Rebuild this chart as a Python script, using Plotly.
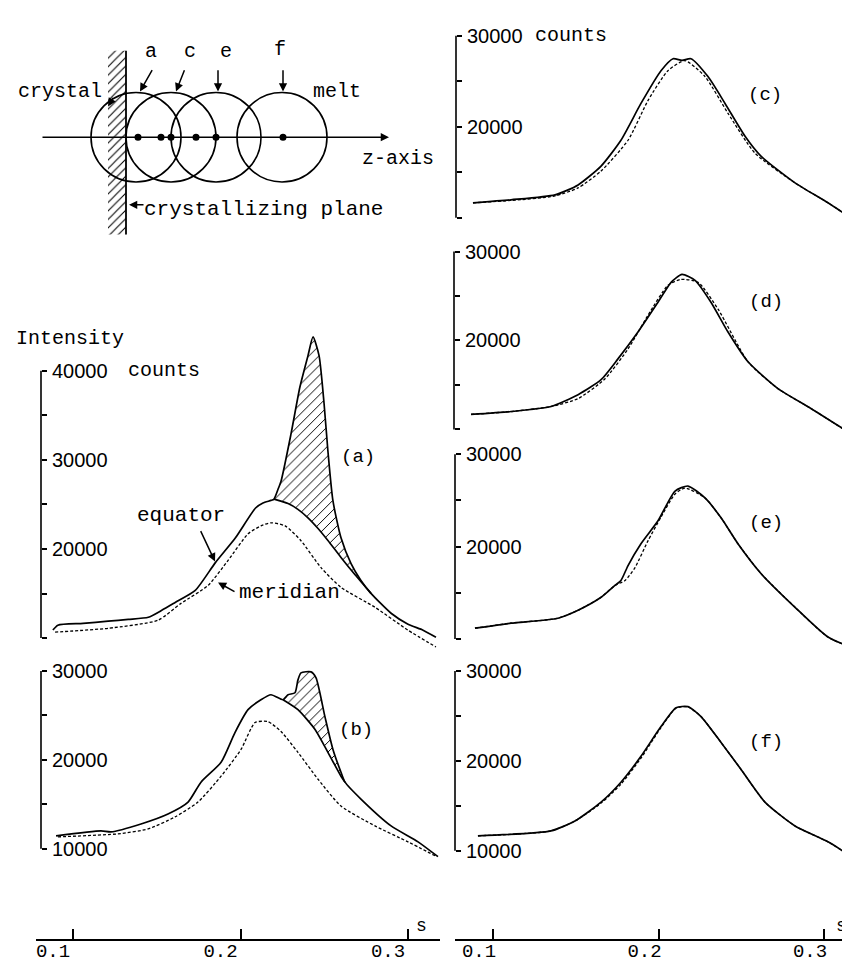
import plotly.graph_objects as go

W, H = 850, 966
MONO = "Liberation Mono"
SANS = "Liberation Sans"

# ---------------- data ----------------
# panel (a): crystal/melt interface
a_equator_s = [0.088, 0.091, 0.106, 0.121, 0.133, 0.145, 0.153, 0.161, 0.173, 0.185, 0.197, 0.209,
               0.2134, 0.2182, 0.2200, 0.2224, 0.2242, 0.2301, 0.2355, 0.2403, 0.2433, 0.2469, 0.2499,
               0.2522, 0.2552, 0.2600, 0.2660, 0.2719, 0.2779, 0.2899, 0.3000, 0.3090, 0.3167]
a_equator_v = [10900, 11450, 11650, 11900, 12100, 12340, 13120, 14000, 15350, 18470, 21260, 24600,
               25170, 25450, 25600, 26700, 27600, 32860, 38200, 41700, 43800, 41700, 36300,
               30970, 25390, 21260, 18360, 16470, 15020, 12790, 11560, 10890, 10100]
a_base_s = [0.2200, 0.2284, 0.2343, 0.2403, 0.2463, 0.2522, 0.2600, 0.2684, 0.2779]
a_base_v = [25600, 25100, 24450, 23500, 22300, 20950, 19050, 17100, 15020]
a_meridian_s = [0.0893, 0.1209, 0.1507, 0.1645, 0.1806, 0.1925, 0.2045, 0.2122, 0.2182, 0.2266,
                0.2361, 0.2481, 0.2600, 0.2803, 0.3000, 0.3167]
a_meridian_v = [10670, 11100, 12000, 13900, 15900, 18700, 21700, 22600, 22940, 22600,
                20930, 17900, 15690, 13460, 10890, 9000]

# panel (b)
b_equator_s = [0.0899, 0.1167, 0.1227, 0.1406, 0.1567, 0.1687, 0.1764, 0.1884, 0.1967, 0.2045,
               0.2122, 0.2182, 0.2254, 0.2284, 0.2325, 0.2343, 0.2361, 0.2421, 0.2451, 0.2504,
               0.2552, 0.2600, 0.2624, 0.2719, 0.2899, 0.3060, 0.3179]
b_equator_v = [11450, 12010, 11900, 12790, 13910, 15250, 17490, 19720, 23070, 25640,
               26760, 27320, 26760, 27320, 27540, 28990, 29780, 29890, 29220, 24860,
               21170, 18600, 17490, 15590, 12570, 10780, 9110]
b_base_s = [0.2254, 0.2343, 0.2445, 0.2522, 0.2600, 0.2624]
b_base_v = [26760, 25640, 23410, 20840, 18160, 17490]
b_meridian_s = [0.0910, 0.1269, 0.1448, 0.1609, 0.1746, 0.1884, 0.2003, 0.2087, 0.2164, 0.2242,
                0.2343, 0.2463, 0.2600, 0.2803, 0.3000, 0.3161]
b_meridian_v = [11340, 11680, 12230, 13580, 15250, 18160, 21170, 24190, 24300, 23180,
                20840, 17820, 14800, 12570, 10780, 9220]

# panel (c)
c_equator_s = [0.0879, 0.1109, 0.1375, 0.1514, 0.1653, 0.1773, 0.1894, 0.2015, 0.2088, 0.2142,
               0.2196, 0.2299, 0.2402, 0.2523, 0.2619, 0.2825, 0.3024, 0.3187]
c_equator_v = [11640, 11970, 12510, 13610, 15680, 18520, 22570, 26170, 27490, 27300,
               27490, 25520, 22570, 18960, 16780, 13830, 11640, 9670]
c_meridian_s = [0.0879, 0.1109, 0.1375, 0.1514, 0.1653, 0.1816, 0.1937, 0.2057, 0.2160, 0.2281,
                0.2420, 0.2583, 0.2825, 0.3024, 0.3187]
c_meridian_v = [11640, 11900, 12400, 13280, 15140, 18520, 22900, 26170, 27270, 25520,
                21480, 17100, 13830, 11640, 9670]

# panel (d)
d_equator_s = [0.0867, 0.1109, 0.1350, 0.1514, 0.1653, 0.1755, 0.1876, 0.1997, 0.2076, 0.2142,
               0.2221, 0.2317, 0.2420, 0.2541, 0.2722, 0.2921, 0.3187]
d_equator_v = [11680, 12010, 12570, 13910, 15590, 17930, 20950, 24300, 26540, 27430,
               26760, 24300, 20950, 17600, 14580, 12350, 9220]
d_meridian_s = [0.0867, 0.1109, 0.1350, 0.1514, 0.1677, 0.1816, 0.1937, 0.2057, 0.2136, 0.2239,
                0.2360, 0.2541, 0.2722, 0.2921, 0.3187]
d_meridian_v = [11680, 12010, 12570, 13460, 15700, 19050, 22850, 26200, 26870, 26540,
                23520, 17600, 14580, 12350, 9220]

# panel (e)
e_equator_s = [0.0891, 0.1109, 0.1393, 0.1514, 0.1653, 0.1737, 0.1773, 0.1816, 0.1894, 0.1997,
               0.2100, 0.2178, 0.2281, 0.2378, 0.2480, 0.2619, 0.2825, 0.3024, 0.3205]
e_equator_v = [11180, 11720, 12260, 13120, 14520, 15810, 16340, 17960, 20320, 22800,
               26020, 26560, 25270, 23120, 20320, 17100, 13440, 10220, 8820]
e_meridian_s = [0.0891, 0.1109, 0.1393, 0.1514, 0.1653, 0.1737, 0.1798, 0.1858, 0.1937, 0.2015,
                0.2100, 0.2160, 0.2281, 0.2378, 0.2480, 0.2619, 0.2825, 0.3024, 0.3205]
e_meridian_v = [11180, 11720, 12260, 13120, 14520, 15810, 16340, 17740, 20650, 23200,
                25700, 26340, 25270, 23120, 20320, 17100, 13440, 10220, 8820]

# panel (f)
f_equator_s = [0.0909, 0.1350, 0.1495, 0.1653, 0.1773, 0.1894, 0.2015, 0.2106, 0.2178, 0.2257,
               0.2378, 0.2498, 0.2643, 0.2825, 0.3024, 0.3205]
f_equator_v = [11660, 12210, 13310, 15410, 17620, 20500, 23810, 25910, 26020, 24920,
               22040, 19060, 15410, 12760, 10990, 8900]
f_meridian_s = f_equator_s
f_meridian_v = [11660, 12210, 13310, 15300, 17400, 20300, 23700, 25850, 26000, 24920,
                22040, 19060, 15410, 12760, 10990, 8900]

# tick values / labels
s_tick_values = [0.1, 0.2, 0.3]
s_tick_labels = ["0.1", "0.2", "0.3"]
a_tick_values = [10000, 15000, 20000, 25000, 30000, 35000, 40000]
a_tick_labels = ["", "", "20000", "", "30000", "", "40000"]
tick_values_30k = [10000, 15000, 20000, 25000, 30000]
labels_with_10k = ["10000", "", "20000", "", "30000"]
labels_without_10k = ["", "", "20000", "", "30000"]

# schematic (upper left): probe positions along the z-axis (diagram units = px)
probe_labels = ["a", "c", "e", "f"]
probe_centers = [128, 163, 208, 274]
probe_radius = 45
dot_positions = [130, 153, 163, 188, 208, 275]
z_axis_level = 124
plane_position = 118
crystal_left = 100
plane_extent = [37, 222]

# ---------------- layout helpers ----------------
def pyf(p):
    return 1 - p / H


def pxf(p):
    return p / W


LEFT = dict(x0=28, x1=432, s01=65, scale=1675, shift=-20)
RIGHT = dict(x0=447, x1=848, s01=485, scale=1655, shift=-14)


def srange(col):
    return [0.1 + (col["x0"] - col["s01"]) / col["scale"],
            0.1 + (col["x1"] - col["s01"]) / col["scale"]]


panels = [
    dict(col=LEFT, axis_px=33, dom=(300, 645), cal=(10000, 628, 0.008967), top=40000,
         eq=(a_equator_s, a_equator_v), mer=(a_meridian_s, a_meridian_v), base=(a_base_s, a_base_v),
         tv=a_tick_values, tt=a_tick_labels, bottom=False),
    dict(col=LEFT, axis_px=33, dom=(648, 862), cal=(10000, 840, 0.00895), top=30000,
         eq=(b_equator_s, b_equator_v), mer=(b_meridian_s, b_meridian_v), base=(b_base_s, b_base_v),
         tv=tick_values_30k, tt=labels_with_10k, bottom=True),
    dict(col=RIGHT, axis_px=448, dom=(0, 222), cal=(10000, 205, 0.00915), top=30000,
         eq=(c_equator_s, c_equator_v), mer=(c_meridian_s, c_meridian_v), base=None,
         tv=tick_values_30k, tt=labels_without_10k, bottom=False),
    dict(col=RIGHT, axis_px=446, dom=(224, 436), cal=(10000, 418, 0.00895), top=30000,
         eq=(d_equator_s, d_equator_v), mer=(d_meridian_s, d_meridian_v), base=None,
         tv=tick_values_30k, tt=labels_without_10k, bottom=False),
    dict(col=RIGHT, axis_px=447, dom=(438, 645), cal=(10000, 629, 0.0093), top=30000,
         eq=(e_equator_s, e_equator_v), mer=(e_meridian_s, e_meridian_v), base=None,
         tv=tick_values_30k, tt=labels_without_10k, bottom=False),
    dict(col=RIGHT, axis_px=447, dom=(648, 866), cal=(10000, 842, 0.00905), top=30000,
         eq=(f_equator_s, f_equator_v), mer=(f_meridian_s, f_meridian_v), base=None,
         tv=tick_values_30k, tt=labels_with_10k, bottom=True),
]

fig = go.Figure()
layout = {}
shapes = []
annotations = []

SOLID = dict(color="black", width=1.7, shape="spline", smoothing=0.6)
DASHED = dict(color="black", width=1.3, dash="3px,2px", shape="spline", smoothing=0.6)
HATCH = dict(shape="/", size=7, solidity=0.14, fgcolor="black", bgcolor="white", fillmode="replace")

for i, p in enumerate(panels, start=1):
    xa = "xaxis" if i == 1 else f"xaxis{i}"
    ya = "yaxis" if i == 1 else f"yaxis{i}"
    xr = "x" if i == 1 else f"x{i}"
    yr = "y" if i == 1 else f"y{i}"
    col = p["col"]
    v0, p0, k = p["cal"]
    top_px, bot_px = p["dom"]
    yrange = [v0 + (p0 - bot_px) / k, v0 + (p0 - top_px) / k]

    # traces
    ms, mv = p["mer"]
    fig.add_trace(go.Scatter(x=ms, y=mv, mode="lines", line=DASHED, xaxis=xr, yaxis=yr,
                             hoverinfo="skip"))
    es, ev = p["eq"]
    if p["base"] is not None:
        bs, bv = p["base"]
        fig.add_trace(go.Scatter(x=bs, y=bv, mode="lines", line=SOLID, xaxis=xr, yaxis=yr,
                                 hoverinfo="skip"))
        spike = [(s, v) for s, v in zip(es, ev) if bs[0] <= s <= bs[-1]]
        fig.add_trace(go.Scatter(x=[q[0] for q in spike], y=[q[1] for q in spike], mode="lines",
                                 line=dict(width=0, color="black", shape="spline", smoothing=0.6),
                                 fill="tonexty", fillpattern=HATCH, xaxis=xr, yaxis=yr,
                                 hoverinfo="skip"))
    fig.add_trace(go.Scatter(x=es, y=ev, mode="lines", line=SOLID, xaxis=xr, yaxis=yr,
                             hoverinfo="skip"))

    if p["bottom"]:
        layout[xa] = dict(domain=[pxf(col["x0"]), pxf(col["x1"])], range=srange(col),
                          anchor="free", position=pyf(932), showline=True, linecolor="black",
                          linewidth=1.6, ticks="inside", ticklen=10, tickwidth=1.6, tickcolor="black",
                          tickvals=s_tick_values, ticktext=s_tick_labels,
                          tickfont=dict(family=MONO, size=19, color="black"),
                          showgrid=False, zeroline=False, ticklabelstandoff=-7,
                          ticklabelshift=col["shift"])
    else:
        layout[xa] = dict(domain=[pxf(col["x0"]), pxf(col["x1"])], range=srange(col),
                          anchor=yr, visible=False)
    layout[ya] = dict(domain=[pyf(bot_px), pyf(top_px)], range=yrange, anchor="free",
                      position=pxf(p["axis_px"]), showline=False, showgrid=False, zeroline=False,
                      ticks="inside", ticklen=5, tickwidth=1.6, tickcolor="black",
                      tickvals=p["tv"], ticktext=p["tt"], ticklabelposition="inside",
                      ticklabeloverflow="allow", ticklabelstandoff=6,
                      tickfont=dict(family=SANS, size=20, color="black"))
    shapes.append(dict(type="line", xref="paper", yref=yr, x0=pxf(p["axis_px"]),
                       x1=pxf(p["axis_px"]), y0=10000, y1=p["top"],
                       line=dict(color="black", width=1.6)))

# ---------------- schematic ----------------
layout["xaxis7"] = dict(domain=[0, pxf(420)], range=[0, 420], visible=False, anchor="y7")
layout["yaxis7"] = dict(domain=[pyf(230), 1], range=[230, 0], visible=False, anchor="x7")

fig.add_trace(go.Scatter(
    x=[crystal_left, plane_position, plane_position, crystal_left, crystal_left],
    y=[plane_extent[0], plane_extent[0], plane_extent[1], plane_extent[1], plane_extent[0]],
    mode="lines", line=dict(width=0, color="black"), fill="toself",
    fillpattern=dict(shape="/", size=6, solidity=0.18, fgcolor="black", bgcolor="white",
                     fillmode="replace"),
    xaxis="x7", yaxis="y7", hoverinfo="skip"))
fig.add_trace(go.Scatter(x=dot_positions, y=[z_axis_level] * len(dot_positions), mode="markers",
                         marker=dict(color="black", size=7), xaxis="x7", yaxis="y7",
                         hoverinfo="skip"))

for c in probe_centers:
    shapes.append(dict(type="circle", xref="x7", yref="y7", x0=c - probe_radius, x1=c + probe_radius,
                       y0=z_axis_level - probe_radius, y1=z_axis_level + probe_radius,
                       line=dict(color="black", width=1.6)))
shapes.append(dict(type="line", xref="x7", yref="y7", x0=plane_position, x1=plane_position,
                   y0=plane_extent[0], y1=plane_extent[1], line=dict(color="black", width=1.8)))

ARROW = dict(showarrow=True, arrowhead=2, arrowsize=1.1, arrowwidth=1.5, arrowcolor="black",
             text="", standoff=0)


def d_arrow(hx, hy, tx, ty):
    a = dict(ARROW)
    a.update(xref="x7", yref="y7", axref="x7", ayref="y7", x=hx, y=hy, ax=tx, ay=ty)
    annotations.append(a)


def d_text(t, x, y, xanchor="center", size=20):
    annotations.append(dict(text=t, xref="x7", yref="y7", x=x, y=y, xanchor=xanchor,
                            yanchor="middle", showarrow=False,
                            font=dict(family=MONO, size=size, color="black")))


# z-axis arrow
d_arrow(381, z_axis_level, 33, z_axis_level)
# probe labels and arrows
label_pos = [(143, 38), (182, 38), (218, 38), (272, 36)]
arrow_pos = [((132, 78), (145, 55)), ((168, 78), (177, 55)), ((210, 78), (210, 55)),
             ((275, 78), (275, 55))]
for lab, (lx, ly), (hd, tl) in zip(probe_labels, label_pos, arrow_pos):
    d_text(lab, lx, ly)
    d_arrow(hd[0], hd[1], tl[0], tl[1])
d_text("crystal", 52, 78)
d_arrow(100, 93, 106, 83)
d_text("melt", 329, 78)
d_text("z-axis", 352, 145, xanchor="left")
d_text("crystallizing plane", 134, 197, xanchor="left", size=21)
d_arrow(121, 192, 137, 192)


# ---------------- paper annotations ----------------
def note(t, x, y, xanchor="center", size=20, family=MONO):
    annotations.append(dict(text=t, xref="paper", yref="paper", x=pxf(x), y=pyf(y),
                            xanchor=xanchor, yanchor="middle", showarrow=False,
                            font=dict(family=family, size=size, color="black")))


def p_arrow(hx, hy, tx, ty):
    a = dict(ARROW)
    a.update(xref="paper", yref="paper", x=pxf(hx), y=pyf(hy), ax=tx - hx, ay=ty - hy)
    annotations.append(a)


note("Intensity", 6, 327, xanchor="left")
note("counts", 118, 359, xanchor="left")
note("counts", 525, 22, xanchor="left")
note("(a)", 350, 446, size=19)
note("(b)", 348, 720, size=19)
note("(c)", 757, 82, size=19)
note("(d)", 758, 290, size=19)
note("(e)", 758, 512, size=19)
note("(f)", 758, 733, size=19)
note("equator", 173, 505, size=21)
note("meridian", 229, 582, xanchor="left", size=21)
p_arrow(207, 551, 192, 519)
p_arrow(210, 572, 228, 582)
note("s", 413, 918, size=18)
note("s", 833, 918, size=18)

fig.update_layout(
    width=W, height=H, margin=dict(l=0, r=0, t=0, b=0),
    paper_bgcolor="white", plot_bgcolor="rgba(0,0,0,0)", showlegend=False,
    font=dict(family=MONO, color="black"),
    shapes=shapes, annotations=annotations, **layout)

fig.write_html("out.html")
